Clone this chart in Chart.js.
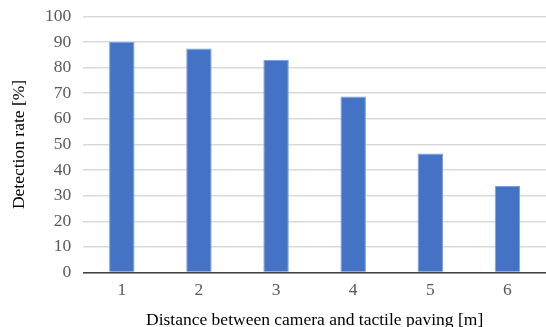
<!DOCTYPE html>
<html>
<head>
<meta charset="utf-8">
<script src="https://cdn.jsdelivr.net/npm/chart.js@4"></script>
<style>
  html, body { margin: 0; padding: 0; background: #fff; }
  #wrap { width: 546px; height: 327px; position: relative; }
</style>
</head>
<body>
<div id="wrap"><canvas id="chart"></canvas></div>
<script>
// data
const distances = ['1', '2', '3', '4', '5', '6'];
const detectionRate = [90, 87.5, 83, 68.7, 46.5, 33.8];
const yTicks = [0, 10, 20, 30, 40, 50, 60, 70, 80, 90, 100];

const serif = "'Liberation Serif', 'Times New Roman', serif";

new Chart(document.getElementById('chart'), {
    type: 'bar',
    data: {
        labels: distances,
        datasets: [{
            data: detectionRate,
            backgroundColor: '#4472C4',
            borderColor: '#7b9fe0',
            borderWidth: 1,
            categoryPercentage: 1,
            barPercentage: 0.33
        }]
    },
    options: {
        responsive: true,
        maintainAspectRatio: false,
        animation: false,
        layout: { padding: { left: 9, right: 0, top: 13, bottom: -4 } },
        plugins: { legend: { display: false }, tooltip: { enabled: false } },
        scales: {
            x: {
                grid: { display: false },
                border: { display: true, color: '#404040', width: 1.5 },
                ticks: { color: '#595959', font: { family: serif, size: 17.5, lineHeight: 1 }, padding: 1 },
                title: {
                    display: true,
                    text: 'Distance between camera and tactile paving [m]',
                    color: '#000',
                    font: { family: serif, size: 17.5 },
                    padding: { top: 10, bottom: 0 }
                }
            },
            y: {
                min: 0,
                max: 100,
                afterBuildTicks: axis => { axis.ticks = yTicks.map(v => ({ value: v })); },
                grid: { color: '#d9d9d9', lineWidth: 1.5, drawTicks: false },
                border: { display: false },
                ticks: { color: '#595959', font: { family: serif, size: 17.5, lineHeight: 0.5 }, padding: 12 },
                title: {
                    display: true,
                    text: 'Detection rate [%]',
                    color: '#000',
                    font: { family: serif, size: 17.5 },
                    padding: { top: 0, bottom: 3 }
                }
            }
        }
    }
});
</script>
</body>
</html>
